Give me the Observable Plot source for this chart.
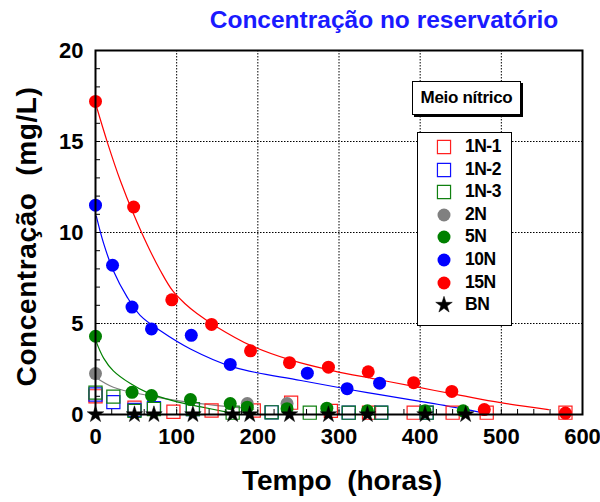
<!DOCTYPE html>
<html>
<head>
<meta charset="utf-8">
<script src="https://cdn.jsdelivr.net/npm/d3@7"></script>
<script src="https://cdn.jsdelivr.net/npm/@observablehq/plot@0.6"></script>
<style>
  body { margin:0; background:white; }
  #wrap { position:relative; width:600px; height:502px; font-family:"Liberation Sans", Arial, sans-serif; }
  .box { position:absolute; background:white; border:1.5px solid black; box-sizing:border-box; }
  .lg { position:absolute; font-weight:bold; font-size:17.5px; letter-spacing:-0.5px; line-height:1; }
</style>
</head>
<body>
<div id="wrap"></div>
<script>
// ---- Text ----
const title = "Concentração no reservatório";
const xLabel = "Tempo  (horas)";
const yLabel = "Concentração  (mg/L)";
const legendTitle = "Meio nítrico";

// ---- Axes ----
const xTicks = [0, 100, 200, 300, 400, 500, 600];
const yTicks = [0, 5, 10, 15, 20];
const xMinor = d3.range(0, 601, 20);
const yMinor = d3.range(0, 21, 1);

// ---- Measured data ----
const t1N1 = [0, 48, 96, 143, 195, 241, 290, 337, 392, 440, 482, 579];
const c1N1 = [1.0, 0.38, 0.15, 0.22, 0.22, 0.65, 0.2, 0.1, 0.1, 0.1, 0.1, 0.1];
const t1N2 = [0, 22, 48, 72, 120, 217, 312, 352, 408];
const c1N2 = [1.1, 0.68, 0.25, 0.35, 0.3, 0.12, 0.1, 0.1, 0.1];
const t1N3 = [0, 22, 48, 72, 120, 169, 217, 264, 312, 352, 408];
const c1N3 = [1.2, 0.98, 0.2, 0.3, 0.3, 0.1, 0.12, 0.1, 0.1, 0.1, 0.1];
const t2N = [0, 187, 236];
const c2N = [2.25, 0.6, 0.6];
const t5N = [0, 45, 69, 117, 166, 187, 236, 285, 335, 406, 453];
const c5N = [4.3, 1.22, 1.04, 0.82, 0.6, 0.4, 0.32, 0.35, 0.2, 0.2, 0.2];
const t10N = [0, 21, 45, 69, 118, 166, 261, 310, 350];
const c10N = [11.5, 8.2, 5.9, 4.7, 4.35, 2.75, 2.27, 1.42, 1.72];
const t15N = [0, 47, 94, 143, 191, 239, 287, 336, 392, 439, 479, 579];
const c15N = [17.2, 11.4, 6.3, 4.95, 3.5, 2.85, 2.6, 2.35, 1.75, 1.27, 0.27, 0.08];
const tBN = [0, 48, 72, 120, 169, 190, 239, 287, 335, 406, 456];
const cBN = [0, 0, 0, 0, 0, 0, 0, 0, 0, 0, 0];

// ---- Fitted curves ----
const ft2N = [0, 22, 64, 105, 138, 170, 195];
const fc2N = [2.05, 1.5, 1.05, 0.73, 0.55, 0.4, 0.3];
const ft5N = [0, 10, 22, 43, 64, 96, 130, 162];
const fc5N = [4.1, 3.1, 2.4, 1.7, 1.2, 0.75, 0.42, 0.13];
const ft10N = [1, 10, 22, 39, 55, 80, 117, 170, 253, 335, 417, 483];
const fc10N = [10.9, 9.4, 7.9, 6.45, 5.45, 4.6, 3.6, 2.6, 1.87, 1.2, 0.6, 0.05];
const ft15N = [0, 15, 31, 47, 64, 80, 95, 110, 125, 150, 191, 240, 293, 345, 397, 450, 499, 558];
const fc15N = [17.1, 14.9, 12.8, 11.0, 9.3, 7.9, 6.8, 6.1, 5.55, 4.8, 3.8, 3.0, 2.4, 1.95, 1.5, 1.05, 0.65, 0.27];

const zip = (a, b) => a.map((v, i) => [v, b[i]]);

const series = [
  {name: "1N-1", symbol: "square", color: "#ff2020", t: t1N1, c: c1N1},
  {name: "1N-2", symbol: "square", color: "#1010ff", t: t1N2, c: c1N2},
  {name: "1N-3", symbol: "square", color: "#108010", t: t1N3, c: c1N3},
  {name: "2N", symbol: "circle", color: "#808080", t: t2N, c: c2N},
  {name: "5N", symbol: "circle", color: "#008000", t: t5N, c: c5N},
  {name: "10N", symbol: "circle", color: "#0000ff", t: t10N, c: c10N},
  {name: "15N", symbol: "circle", color: "#ff0000", t: t15N, c: c15N},
  {name: "BN", symbol: "star", color: "#000000", t: tBN, c: cBN}
];
const fits = [
  {color: "#808080", t: ft2N, c: fc2N},
  {color: "#008000", t: ft5N, c: fc5N},
  {color: "#0000ff", t: ft10N, c: fc10N},
  {color: "#ff0000", t: ft15N, c: fc15N}
];

const W = 600, H = 502, mL = 95, mR = 18, mT = 50, mB = 88;
const fw = W - mL - mR, fh = H - mT - mB;

const marks = [
  Plot.gridX(xTicks.slice(1, -1), {stroke: "black", strokeOpacity: 1, strokeDasharray: "1.5,1.5", strokeWidth: 1}),
  Plot.gridY(yTicks.slice(1, -1), {stroke: "black", strokeOpacity: 1, strokeDasharray: "1.5,1.5", strokeWidth: 1}),
  Plot.tickX(xMinor, {x: d => d, insetTop: fh - 5, stroke: "black", strokeWidth: 1}),
  Plot.tickY(yMinor, {y: d => d, insetRight: fw - 5, stroke: "black", strokeWidth: 1}),
  Plot.axisX(xTicks, {tickSize: 0, tickPadding: 14, label: null, fontSize: 22, fontWeight: "bold"}),
  Plot.axisY(yTicks, {tickSize: 0, tickPadding: 12, label: null, fontSize: 22, fontWeight: "bold"}),
  ...fits.map(f => Plot.line(zip(f.t, f.c), {stroke: f.color, strokeWidth: 1.2, curve: "catmull-rom", clip: true})),
  ...series.filter(s => s.symbol === "square").map(s =>
    Plot.dot(zip(s.t, s.c), {symbol: "square", r: 7.4, stroke: s.color, strokeWidth: 1.2, fill: "none"})),
  ...series.filter(s => s.symbol === "circle").map(s =>
    Plot.dot(zip(s.t, s.c), {symbol: "circle", r: 6.5, fill: s.color, stroke: "none"})),
  ...series.filter(s => s.symbol === "star").map(s =>
    Plot.dot(zip(s.t, s.c), {symbol: "star", r: 5.2, fill: s.color, stroke: s.color, strokeWidth: 0.5})),
  Plot.frame({stroke: "black", strokeWidth: 2}),
  Plot.text([yLabel], {frameAnchor: "left", textAnchor: "middle", lineAnchor: "middle", rotate: -90, dx: -68, dy: 4, fontSize: 28, fontWeight: "bold", fill: "black", style: "letter-spacing:0.6px"}),
  Plot.text([xLabel], {frameAnchor: "bottom", textAnchor: "middle", lineAnchor: "middle", dx: 3, dy: 67, fontSize: 28, fontWeight: "bold", fill: "black"}),
  Plot.text([title], {frameAnchor: "top", textAnchor: "middle", lineAnchor: "middle", dx: 45, dy: -30, fontSize: 24.5, fontWeight: "bold", fill: "#1a1aff"})
];

const chart = Plot.plot({
  width: W, height: H,
  marginLeft: mL, marginRight: mR, marginTop: mT, marginBottom: mB,
  x: {domain: [0, 600], ticks: xTicks},
  y: {domain: [0, 20], ticks: yTicks},
  style: {fontFamily: "'Liberation Sans', Arial, sans-serif", color: "black", background: "white", overflow: "visible"},
  marks
});
const wrap = document.getElementById("wrap");
wrap.appendChild(chart);
// letter spacing for the y label
d3.select(chart).selectAll("text").filter(function() { return this.textContent === yLabel; }).style("letter-spacing", "0.6px");

// ---- Legend (HTML overlay) ----
const head = document.createElement("div");
head.className = "box";
head.style.cssText += "left:412px;top:81px;width:109px;height:34px;box-shadow:2px 2px 0 #000;display:flex;align-items:center;justify-content:center;font-weight:bold;font-size:17px;letter-spacing:-0.3px;";
head.textContent = legendTitle;
wrap.appendChild(head);

const lg = document.createElement("div");
lg.className = "box";
lg.style.cssText += "left:417px;top:132px;width:95px;height:194px;";
wrap.appendChild(lg);

series.forEach((s, i) => {
  const cy = 146 + i * 22.6 - 132;
  const svg = d3.create("svg").attr("width", 20).attr("height", 20)
    .style("position", "absolute").style("left", (443 - 417 - 10) + "px").style("top", (cy - 10) + "px");
  const r = s.symbol === "circle" ? 6.5 : s.symbol === "square" ? 7.4 : 5.2;
  const sym = s.symbol === "circle" ? d3.symbolCircle : s.symbol === "square" ? d3.symbolSquare : d3.symbolStar;
  svg.append("path").attr("transform", "translate(10,10)")
    .attr("d", d3.symbol(sym, Math.PI * r * r)())
    .attr("fill", s.symbol === "square" ? "none" : s.color)
    .attr("stroke", s.symbol === "circle" ? "none" : s.color)
    .attr("stroke-width", s.symbol === "square" ? 1.2 : 0.5);
  lg.appendChild(svg.node());
  const t = document.createElement("div");
  t.className = "lg";
  t.style.left = (464 - 417) + "px";
  t.style.top = (cy - 9) + "px";
  t.textContent = s.name;
  lg.appendChild(t);
});
</script>
</body>
</html>
